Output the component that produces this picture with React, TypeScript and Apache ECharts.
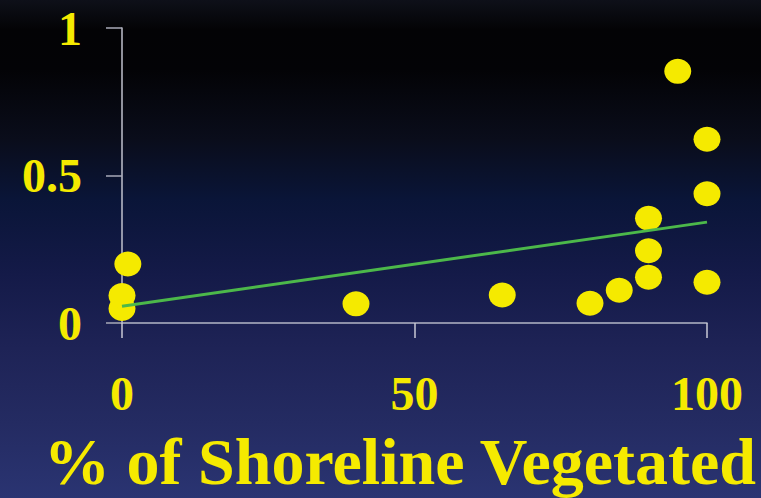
import React, { useEffect, useRef } from "react";
import * as echarts from "echarts";

const xValues = [0, 0, 1, 40, 65, 80, 85, 90, 90, 90, 95, 100, 100, 100];
const yValues = [0.049, 0.093, 0.2, 0.065, 0.095, 0.067, 0.111, 0.155, 0.245, 0.355, 0.853, 0.138, 0.438, 0.623];
const trendX = [0, 100];
const trendY = [0.057, 0.342];
const xTitle = "% of Shoreline Vegetated";

const YELLOW = "#f5ea00";
const FONT = "'Liberation Serif', 'Times New Roman', serif";

export default function App() {
  const ref = useRef<HTMLDivElement>(null);
  useEffect(() => {
    if (!ref.current) return;
    const chart = echarts.init(ref.current, undefined, { renderer: "svg" });
    const points = xValues.map((x, i) => [x, yValues[i]]);
    const trend = trendX.map((x, i) => [x, trendY[i]]);
    chart.setOption({
      animation: false,
      backgroundColor: {
        type: "linear",
        x: 0,
        y: 0,
        x2: 0,
        y2: 1,
        colorStops: [
          { offset: 0, color: "#0e1019" },
          { offset: 0.06, color: "#030305" },
          { offset: 0.14, color: "#030306" },
          { offset: 0.28, color: "#0a0d1b" },
          { offset: 0.4, color: "#0a1538" },
          { offset: 0.55, color: "#141a48" },
          { offset: 0.7, color: "#1e2356" },
          { offset: 0.85, color: "#242b62" },
          { offset: 1, color: "#2a3472" },
        ],
      },
      grid: { left: 122, right: 54, top: 28, bottom: 175, containLabel: false },
      xAxis: {
        type: "value",
        min: 0,
        max: 100,
        interval: 50,
        splitLine: { show: false },
        axisLine: { show: true, lineStyle: { color: "#b4b6c6", width: 1.5 } },
        axisTick: { show: true, length: 15, lineStyle: { color: "#c8c8d4", width: 1.5 } },
        axisLabel: {
          margin: 46,
          color: YELLOW,
          fontFamily: FONT,
          fontWeight: "bold",
          fontSize: 48,
        },
      },
      yAxis: {
        type: "value",
        min: 0,
        max: 1,
        interval: 0.5,
        splitLine: { show: false },
        axisLine: { show: true, lineStyle: { color: "#c0c2ce", width: 1.5 } },
        axisTick: { show: true, length: 16, lineStyle: { color: "#a8aab8", width: 1.5 } },
        axisLabel: {
          margin: 40,
          color: YELLOW,
          fontFamily: FONT,
          fontWeight: "bold",
          fontSize: 48,
        },
      },
      graphic: [
        {
          type: "text",
          x: 400,
          y: 461,
          style: {
            text: xTitle,
            fill: YELLOW,
            font: `bold 66px ${FONT}`,
            align: "center",
            verticalAlign: "middle",
            shadowColor: "rgba(0,0,0,0.75)",
            shadowBlur: 2,
            shadowOffsetX: 3,
            shadowOffsetY: 3,
          },
        },
      ],
      series: [
        {
          type: "scatter",
          data: points,
          symbol: "circle",
          symbolSize: [27, 25],
          itemStyle: { color: YELLOW, opacity: 1 },
          z: 2,
        },
        {
          type: "line",
          data: trend,
          showSymbol: false,
          symbol: "none",
          lineStyle: { color: "#4cb84a", width: 3 },
          z: 3,
        },
      ],
    });
    return () => chart.dispose();
  }, []);
  return (
    <div
      ref={ref}
      style={{ position: "fixed", left: 0, top: 0, width: 761, height: 498 }}
    />
  );
}
